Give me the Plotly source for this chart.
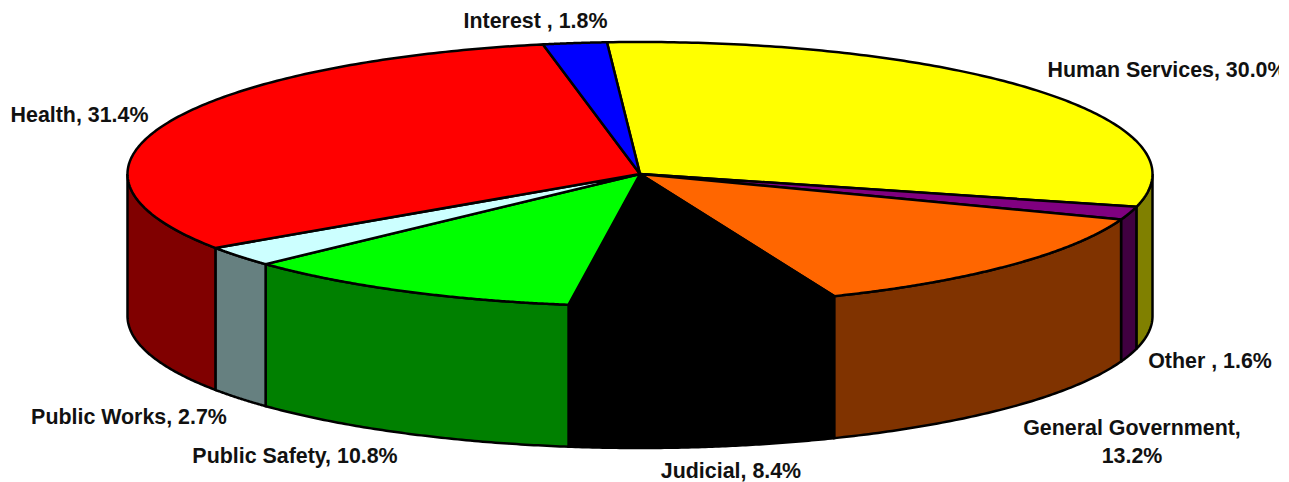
import numpy as np
import plotly.graph_objects as go

# --- data ---
categories = ["Human Services", "Other ", "General Government", "Judicial",
              "Public Safety", "Public Works", "Health", "Interest "]
# slice sizes as drawn in the picture (read from the slice edges)
shares = [30.0, 1.6, 13.2, 8.4, 10.8, 2.5, 31.4, 2.0]
label_texts = ["Human Services, 30.0%", "Other , 1.6%", "General Government,<br>13.2%",
               "Judicial, 8.4%", "Public Safety, 10.8%", "Public Works, 2.7%",
               "Health, 31.4%", "Interest , 1.8%"]

# --- styling ---
top_colors = ["#FFFF00", "#800080", "#FF6600", "#000000", "#00FF00", "#CCFFFF", "#FF0000", "#0000FF"]
side_colors = ["#808000", "#400040", "#803300", "#000000", "#008000", "#668080", "#800000", "#000080"]
label_x = [1167, 1210, 1132, 731, 295, 129, 79.5, 535.5]
label_y = [72, 363, 444, 473, 458, 419, 117, 23]

# --- pie geometry (drawing scale) ---
CX, CY, RX, RY, DEPTH = 640.0, 174.0, 512.5, 132.0, 142.0
START_DEG = -3.7
LW = 2.5


def rim(deg):
    a = np.radians(deg)
    return CX + RX * np.sin(a), CY - RY * np.cos(a)


def add_poly(fig, xs, ys, color):
    fig.add_trace(go.Scatter(x=list(xs), y=list(ys), mode="lines", fill="toself",
                             fillcolor=color,
                             line=dict(color="black", width=LW, simplify=False),
                             hoverinfo="skip", showlegend=False))


fig = go.Figure()

edges = START_DEG + np.concatenate([[0], np.cumsum(shares)]) / sum(shares) * 360.0

# sides first (only front half of rim is visible)
for i in range(len(shares)):
    a0, a1 = max(edges[i], 90.0), min(edges[i + 1], 270.0)
    if a1 <= a0:
        continue
    ang = np.linspace(a0, a1, 80)
    x, y = rim(ang)
    xs = np.concatenate([x, x[::-1], x[:1]])
    ys = np.concatenate([y, y[::-1] + DEPTH, y[:1]])
    add_poly(fig, xs, ys, side_colors[i])

# top faces
for i in range(len(shares)):
    ang = np.linspace(edges[i], edges[i + 1], 160)
    x, y = rim(ang)
    xs = np.concatenate([[CX], x, [CX]])
    ys = np.concatenate([[CY], y, [CY]])
    add_poly(fig, xs, ys, top_colors[i])

# labels
fig.add_trace(go.Scatter(x=label_x, y=label_y, mode="text", text=label_texts,
                         textposition="middle center", cliponaxis=True,
                         textfont=dict(family="Liberation Sans", size=21.4, color="#111111", weight="bold"),
                         hovertext=categories, hoverinfo="text", showlegend=False))

fig.update_layout(width=1289, height=482, margin=dict(l=0, r=10, t=0, b=0),
                  paper_bgcolor="white", plot_bgcolor="white", showlegend=False,
                  xaxis=dict(range=[0, 1279], visible=False, fixedrange=True),
                  yaxis=dict(range=[482, 0], visible=False, fixedrange=True))

fig.write_html("out.html", config=dict(displayModeBar=False),
               post_script="document.body.style.margin='0';document.body.style.overflow='hidden';")
